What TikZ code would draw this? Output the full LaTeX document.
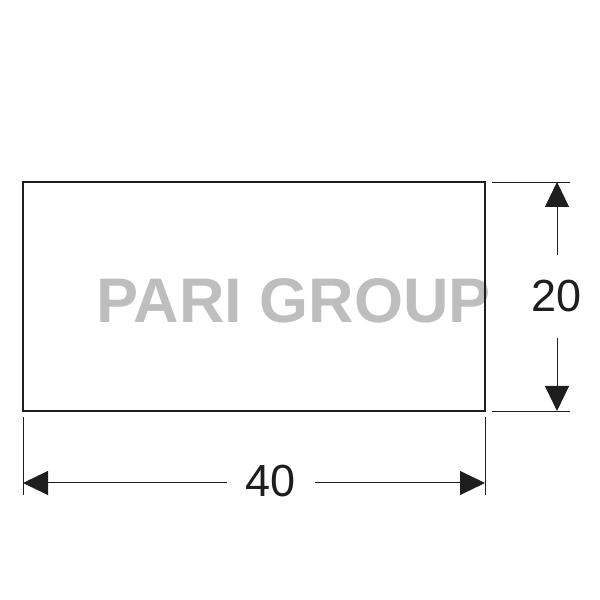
\documentclass[tikz,border=0pt]{standalone}
\usepackage{fontspec}
\setmainfont{Liberation Sans}
\usetikzlibrary{arrows.meta}
\usetikzlibrary{calc}

\definecolor{ink}{HTML}{1E1E1E}
\definecolor{markgray}{HTML}{BEBEBE}

\begin{document}
\begin{tikzpicture}[x=1pt,y=1pt,ink,dim line/.style={line width=1pt,-{Triangle[length=25pt,width=24pt]}},ext line/.style={line width=0.9pt},dim label/.style={font=\fontsize{45}{54}\selectfont,inner xsep=19pt,inner ysep=25pt}]
\useasboundingbox (0,0) rectangle (600,600);

				% watermark behind the part
				\node[markgray,font=\fontsize{63}{72}\selectfont\bfseries,anchor=base] (mark) at (293.5,277) {PARI GROUP};
				\node[draw,line width=2.5pt,minimum width=462pt,minimum height=229pt,inner sep=0pt] (panel) at (254,303.5) {};

				% extension lines
				\coordinate (rt1) at (492,418);
				\coordinate (rt2) at (570,418);
				\coordinate (rb1) at (492,189);
				\coordinate (rb2) at (570,189);
				\coordinate (bl1) at (23,183);
				\coordinate (bl2) at (23,105);
				\coordinate (br1) at (485,183);
				\coordinate (br2) at (485,105);
				\draw[ext line] (rt1) -- (rt2);
				\draw[ext line] (rb1) -- (rb2);
				\draw[ext line] (bl1) -- (bl2);
				\draw[ext line] (br1) -- (br2);

				% dimensions
				\coordinate (hTop) at (557,418);
				\coordinate (hBot) at (557,189);
				\coordinate (wLeft) at (23,117);
				\coordinate (wRight) at (485,117);
				\node[dim label] (h20) at (557,303.5) {20};
				\node[dim label] (w40) at (271,118.5) {40};
				\draw[dim line] (h20) -- (hTop);
				\draw[dim line] (h20) -- (hBot);
				\draw[dim line] (w40.west |- wLeft) -- (wLeft);
				\draw[dim line] (w40.east |- wRight) -- (wRight);

\end{tikzpicture}
\end{document}
